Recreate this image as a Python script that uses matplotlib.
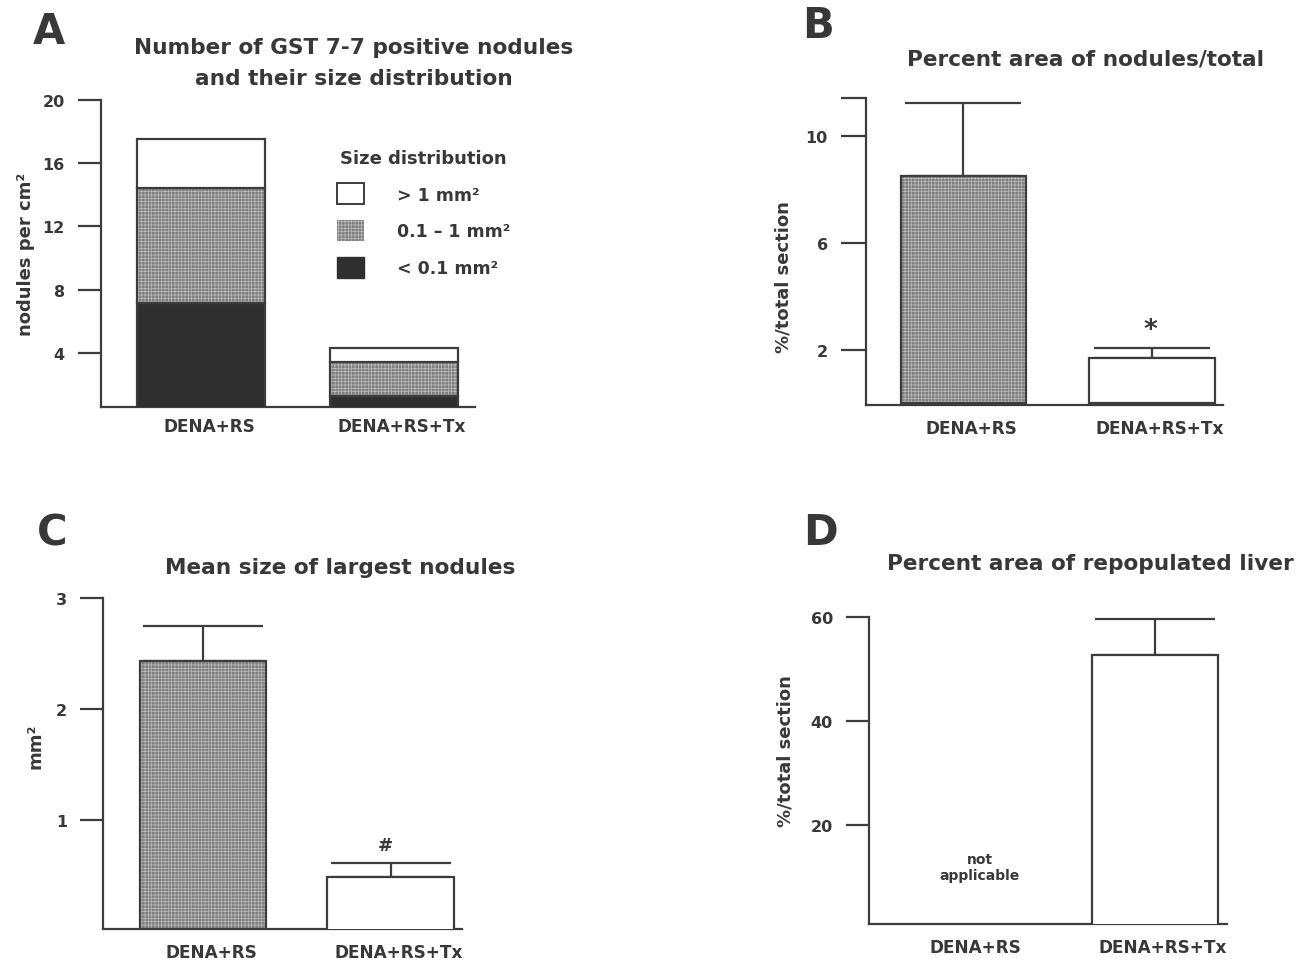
import numpy as np
import matplotlib
matplotlib.use("Agg")
import matplotlib.pyplot as plt
from matplotlib.patches import Patch
from matplotlib.transforms import ScaledTranslation

# ---------------- data ----------------
categories = ["DENA+RS", "DENA+RS+Tx"]

# Panel A: stacked nodules per cm2 by size class
size_labels = ["> 1 mm²", "0.1 – 1 mm²", "< 0.1 mm²"]
nod_small = [7.15, 1.25]     # < 0.1 mm2
nod_medium = [7.3, 2.2]      # 0.1 - 1 mm2
nod_large = [3.1, 0.87]      # > 1 mm2

# Panel B: percent area of nodules / total
area_mean = [8.53, 1.71]
area_err = [2.74, 0.35]

# Panel C: mean size of largest nodules (mm2)
size_mean = [2.43, 0.49]
size_err = [0.32, 0.12]

# Panel D: percent area of repopulated liver
repop_mean = [np.nan, 52.6]
repop_err = [np.nan, 7.1]

# ---------------- style ----------------
plt.rcParams['font.family'] = ['DejaVu Sans']
plt.rcParams['font.weight'] = 'bold'
plt.rcParams['hatch.linewidth'] = 0.5
TXT = '#383838'
LINE = '#3c3c3c'
DARK = '#2f2f2f'
DOTBASE = '#808080'
DOTLINE = '#bdbdbd'
HATCH = '+++++'
plt.rcParams['hatch.color'] = DOTLINE
plt.rcParams['text.color'] = TXT
plt.rcParams['axes.labelcolor'] = TXT
plt.rcParams['xtick.color'] = TXT
plt.rcParams['ytick.color'] = LINE
plt.rcParams['ytick.labelcolor'] = TXT

W, H = 1305, 962
fig = plt.figure(figsize=(W / 100, H / 100), dpi=100)
fig.patch.set_facecolor('white')


def add_axes(left, top, right, bottom):
    return fig.add_axes([left / W, 1 - bottom / H, (right - left) / W, (bottom - top) / H])


def style_axes(ax, yticks, yticklabels, ylim, xlim, ticklen=16.5, xpad=7):
    ax.set_xlim(*xlim)
    ax.set_ylim(*ylim)
    for s in ['top', 'right']:
        ax.spines[s].set_visible(False)
    for s in ['left', 'bottom']:
        ax.spines[s].set_linewidth(1.6)
        ax.spines[s].set_color(LINE)
    ax.set_yticks(yticks)
    ax.set_yticklabels(yticklabels)
    ax.tick_params(axis='y', direction='out', length=ticklen, width=1.6, pad=9.5, labelsize=11.5)
    ax.set_xticks(range(len(categories)))
    ax.set_xticklabels(categories)
    ax.tick_params(axis='x', length=0, pad=xpad, labelsize=12.2)
    for lab in ax.get_xticklabels():
        lab.set_transform(lab.get_transform() + ScaledTranslation(8 / 100, 0, fig.dpi_scale_trans))
    ax.patch.set_alpha(0)


def dotted_bar(ax, x, h, w, bottom=None):
    ax.bar(x, h, w, bottom=bottom, color=DOTBASE, hatch=HATCH, edgecolor=DOTLINE, linewidth=0, zorder=2)
    ax.bar(x, h, w, bottom=bottom, fill=False, edgecolor=LINE, linewidth=1.6, zorder=3)


def white_bar(ax, x, h, w, bottom=None):
    ax.bar(x, h, w, bottom=bottom, color='white', edgecolor=LINE, linewidth=1.6, zorder=3)


def err(ax, x, m, e, cap):
    ax.errorbar(x, m, yerr=[np.zeros(len(m)), e], fmt='none', ecolor=LINE,
                elinewidth=1.6, capsize=cap, capthick=1.6, zorder=1)


pos = np.arange(len(categories))

# ---------------- Panel A ----------------
axA = add_axes(101, 101, 475, 408)
wA = 0.665
b1 = np.array(nod_small)
b2 = b1 + np.array(nod_medium)
axA.bar(pos, nod_small, wA, color=DARK, edgecolor=LINE, linewidth=1.6, zorder=3)
dotted_bar(axA, pos, nod_medium, wA, bottom=b1)
white_bar(axA, pos, nod_large, wA, bottom=b2)
style_axes(axA, [4, 8, 12, 16, 20], ['4', '8', '12', '16', '20'], (0.58, 20), (-0.519, 1.423))

handles = [Patch(facecolor='white', edgecolor=LINE, linewidth=1.4),
           Patch(facecolor=DOTBASE, edgecolor=DOTLINE, hatch=HATCH, linewidth=0),
           Patch(facecolor=DARK, edgecolor=DARK, linewidth=1.0)]
leg = axA.legend(handles, size_labels, title='Size distribution', loc='upper left',
                 bbox_to_anchor=(337 / W, 1 - 150 / H), bbox_transform=fig.transFigure,
                 frameon=False, borderpad=0, borderaxespad=0, fontsize=12.5,
                 title_fontsize=13, handlelength=1.55, handleheight=1.44,
                 labelspacing=0.95, handletextpad=1.9)
leg.get_title().set_fontweight('bold')
leg.get_title().set_color(TXT)
for t in leg.get_texts():
    t.set_color(TXT)

# ---------------- Panel B ----------------
axB = add_axes(866, 99, 1223, 406)
wB = 0.666
dotted_bar(axB, pos[0], area_mean[0], wB)
white_bar(axB, pos[1], area_mean[1], wB)
err(axB, pos, area_mean, area_err, 42)
style_axes(axB, [2, 6, 10, 11.44], ['2', '6', '10', ''], (-0.06, 11.44), (-0.517, 1.377),
           ticklen=18, xpad=10)
axB.annotate('*', xy=(pos[1], area_mean[1] + area_err[1]), xytext=(-1, 4),
             textcoords='offset points', ha='center', va='bottom', fontsize=19, color=TXT)

# ---------------- Panel C ----------------
axC = add_axes(103, 599, 462, 930)
wC = 0.675
dotted_bar(axC, pos[0], size_mean[0], wC)
white_bar(axC, pos[1], size_mean[1], wC)
err(axC, pos, size_mean, size_err, 43)
style_axes(axC, [1, 2, 3], ['1', '2', '3'], (0.02, 3), (-0.533, 1.381), xpad=10)
axC.annotate('#', xy=(pos[1], size_mean[1] + size_err[1]), xytext=(-4, 7),
             textcoords='offset points', ha='center', va='bottom', fontsize=13, color=TXT)

# ---------------- Panel D ----------------
axD = add_axes(869, 618, 1227, 925)
wD = 0.67
white_bar(axD, pos[1], repop_mean[1], wD)
err(axD, pos[1:], repop_mean[1:], repop_err[1:], 43)
style_axes(axD, [20, 40, 60], ['20', '40', '60'], (0.9, 60), (-0.521, 1.383), xpad=10)
axD.annotate('not\napplicable', xy=(pos[0], 0.9), xytext=(9, 41), textcoords='offset points',
             ha='center', va='center', fontsize=10, color=TXT, linespacing=1.25)

# ---------------- texts ----------------
def ftext(x, y, s, **kw):
    fig.text(x / W, 1 - y / H, s, **kw)

ftext(33, 44, 'A', fontsize=30, ha='left', va='baseline', color=TXT)
ftext(802, 38, 'B', fontsize=30, ha='left', va='baseline', color=TXT)
ftext(37, 546, 'C', fontsize=30, ha='left', va='baseline', color=TXT)
ftext(803, 545, 'D', fontsize=30, ha='left', va='baseline', color=TXT)

ftext(354, 54, 'Number of GST 7-7 positive nodules', fontsize=15.6, ha='center', va='baseline')
ftext(354, 85, 'and their size distribution', fontsize=15.6, ha='center', va='baseline')
ftext(1086, 66, 'Percent area of nodules/total', fontsize=15.6, ha='center', va='baseline')
ftext(340, 574, 'Mean size of largest nodules', fontsize=15.6, ha='center', va='baseline')
ftext(1090, 570, 'Percent area of repopulated liver', fontsize=15.6, ha='center', va='baseline')

ftext(26, 254, 'nodules per cm²', fontsize=13, rotation=90, ha='center', va='center')
ftext(784, 277, '%/total section', fontsize=13, rotation=90, ha='center', va='center')
ftext(35, 746, 'mm²', fontsize=13, rotation=90, ha='center', va='center')
ftext(785, 751, '%/total section', fontsize=13, rotation=90, ha='center', va='center')

fig.savefig('out.png', dpi=100, facecolor='white')
